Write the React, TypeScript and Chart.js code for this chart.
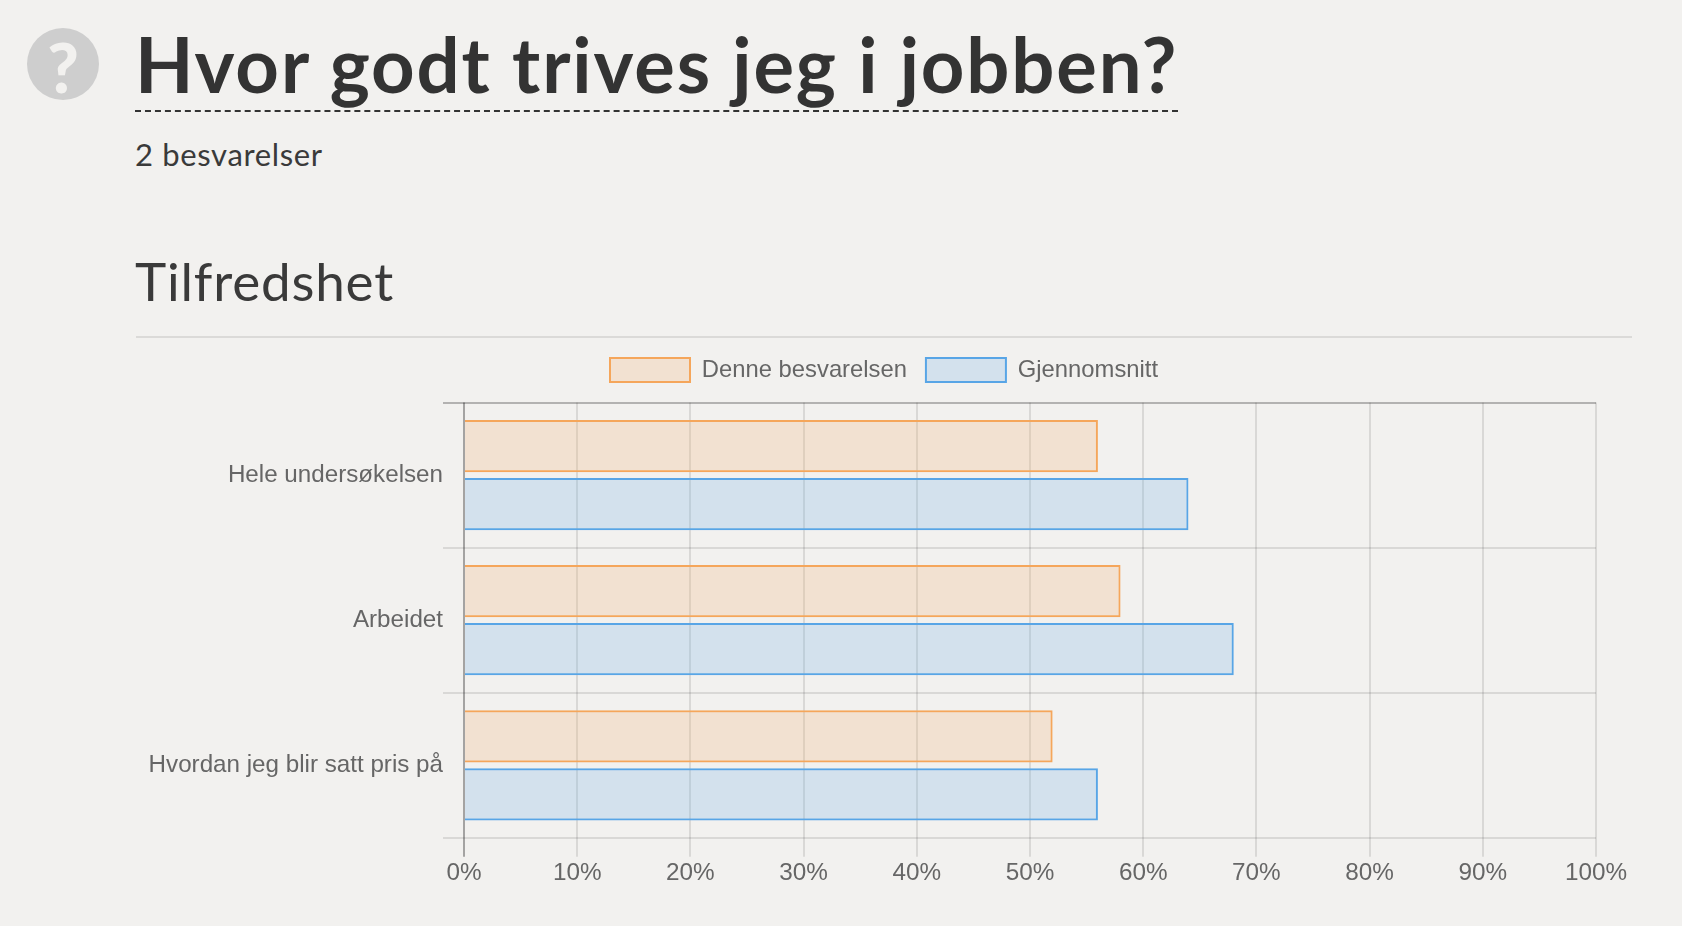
import React, { useEffect, useRef } from "react";
import { Chart, registerables } from "chart.js";

Chart.register(...registerables);

const categories = ["Hele undersøkelsen", "Arbeidet", "Hvordan jeg blir satt pris på"];
const denneBesvarelsen = [56, 58, 52];
const gjennomsnitt = [64, 68, 56];
const seriesNames = ["Denne besvarelsen", "Gjennomsnitt"];
const pageTitle = "Hvor godt trives jeg i jobben?";
const subTitle = "2 besvarelser";
const sectionTitle = "Tilfredshet";

const textFont = 'Lato, "Open Sans", sans-serif';
const chartFont = '"Liberation Sans", Arial, sans-serif';

const legendGap = {
  id: "legendGap",
  beforeUpdate(chart: any) {
    const legend = chart.legend;
    if (legend && !legend.__patched) {
      const fit = legend.fit;
      legend.fit = function () {
        fit.call(this);
        this.height += 10.5;
      };
      legend.__patched = true;
    }
  },
};

export default function App() {
  const ref = useRef<HTMLCanvasElement | null>(null);
  useEffect(() => {
    if (!ref.current) return;
    const chart = new Chart(ref.current, {
      type: "bar",
      plugins: [legendGap],
      data: {
        labels: categories,
        datasets: [
          {
            label: seriesNames[0],
            data: denneBesvarelsen,
            backgroundColor: "rgba(245,166,91,0.2)",
            borderColor: "#f5a65b",
            borderWidth: 2,
          },
          {
            label: seriesNames[1],
            data: gjennomsnitt,
            backgroundColor: "rgba(88,165,230,0.2)",
            borderColor: "#58a5e6",
            borderWidth: 2,
          },
        ],
      },
      options: {
        indexAxis: "y",
        responsive: false,
        animation: false,
        devicePixelRatio: 1,
        layout: { padding: 0 },
        plugins: {
          tooltip: { enabled: false },
          legend: {
            position: "top",
            labels: {
              boxWidth: 80,
              boxHeight: 24,
              padding: 19,
              color: "#666",
              font: { family: chartFont, size: 23.8 },
            },
          },
        },
        scales: {
          x: {
            min: 0,
            max: 100,
            afterFit: (s: any) => {
              s.paddingRight = 36;
            },
            grid: {
              color: (c: any) => (c.index === 0 ? "rgba(0,0,0,0.32)" : "rgba(0,0,0,0.10)"),
              lineWidth: 2,
              tickLength: 19,
            },
            border: { display: false },
            ticks: {
              stepSize: 10,
              maxRotation: 0,
              padding: 2,
              color: "#666",
              font: { family: chartFont, size: 24.3 },
              callback: (v: any) => v + "%",
            },
          },
          y: {
            afterFit: (s: any) => {
              s.width = 328;
            },
            grid: {
              color: (c: any) =>
                c.index === 0 ? "rgba(0,0,0,0.26)" : c.index === categories.length ? "rgba(0,0,0,0.2)" : "rgba(0,0,0,0.10)",
              lineWidth: 2,
              tickLength: 21,
            },
            border: { display: false },
            ticks: {
              padding: 0,
              color: "#666",
              font: { family: chartFont, size: 24.2 },
            },
          },
        },
      },
    } as any);
    return () => chart.destroy();
  }, []);

  return (
    <div style={{ position: "fixed", inset: 0, background: "#f2f1ef", overflow: "hidden" }}>
      <div
        style={{
          position: "absolute", left: 27, top: 28, width: 72, height: 72, borderRadius: "50%",
          background: "#cecece", color: "#f2f1ef", fontFamily: textFont, fontWeight: 900,
          fontSize: 68, lineHeight: "78px", textAlign: "center", overflow: "hidden",
        }}
      >
        ?
      </div>
      <div
        style={{
          position: "absolute", left: 135, top: 20, height: 90, whiteSpace: "nowrap",
          fontFamily: textFont, fontWeight: 700, fontSize: 76, lineHeight: "88px", letterSpacing: 1.85,
          color: "#333", borderBottom: "2px dashed #333",
        }}
      >
        {pageTitle}
      </div>
      <div
        style={{
          position: "absolute", left: 135, top: 134, whiteSpace: "nowrap", fontFamily: textFont,
          fontWeight: 400, fontSize: 31, lineHeight: "40px", letterSpacing: 0.65, color: "#3a3a3a",
        }}
      >
        {subTitle}
      </div>
      <div
        style={{
          position: "absolute", left: 135, top: 248, whiteSpace: "nowrap", fontFamily: textFont,
          fontWeight: 400, fontSize: 53, lineHeight: "66px", letterSpacing: 0.8, color: "#3a3a3a",
        }}
      >
        {sectionTitle}
      </div>
      <div style={{ position: "absolute", left: 136, top: 336, width: 1496, height: 2, background: "#dbdad8" }} />
      <canvas
        ref={ref}
        width={1496}
        height={551}
        style={{ position: "absolute", left: 136, top: 339, width: 1496, height: 551 }}
      />
    </div>
  );
}
